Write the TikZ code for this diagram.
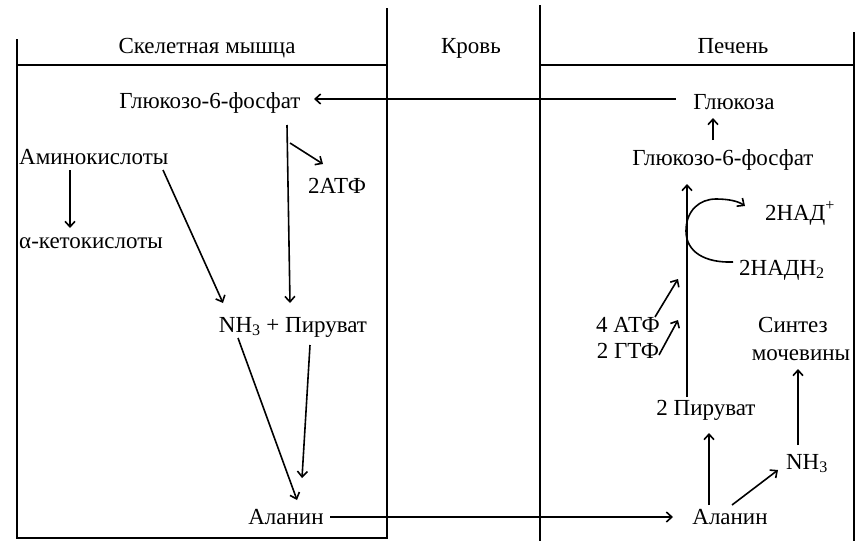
\documentclass[tikz,border=0pt]{standalone}
\usepackage{fontspec}
\setmainfont{Liberation Serif}
\usetikzlibrary{arrows.meta}
\begin{document}
\begin{tikzpicture}[x=1pt,y=-1pt,
  txt/.style={anchor=base,inner sep=0pt,font=\fontsize{23}{27}\selectfont},
  frame/.style={line width=1.9pt},
  arr/.style={line width=1.6pt,-{Straight Barb[length=5.5pt,width=10pt]}}]
\useasboundingbox (0,0) rectangle (863,541);
\fill[white] (0,0) rectangle (863,541);
% frames
\draw[frame] (17,39) -- (17,538) -- (387,538) -- (387,8);
\draw[frame] (17,65) -- (387,65);
\draw[frame] (540,5) -- (540,541);
\draw[frame] (540,65) -- (854,65);
\draw[frame] (854,32) -- (854,541);
% texts
\node[txt] (hSk) at (207,53) {Скелетная мышца};
\node[txt] (hBl) at (471,53) {Кровь};
\node[txt] (hLi) at (733,53) {Печень};
\node[txt] (g6pL) at (210,108) {Глюкозо-6-фосфат};
\node[txt] (gluc) at (734,109) {Глюкоза};
\node[txt] (g6pR) at (723,165) {Глюкозо-6-фосфат};
\node[txt,anchor=base west] (amino) at (19,164) {Аминокислоты};
\node[txt] (atpL) at (337,193) {2АТФ};
\node[txt,anchor=base west] (keto) at (19,248) {α-кетокислоты};
\node[txt] (nhpyr) at (293,332) {NH\textsubscript{3} + Пируват};
\node[txt] (alaL) at (286,524) {Аланин};
\node[txt] (alaR) at (730,524) {Аланин};
\node[txt] (pyr2) at (706,415) {2 Пируват};
\node[txt] (nh3R) at (807,469) {NH\textsubscript{3}};
\node[txt] (nad) at (800,220) {2НАД\textsuperscript{+}};
\node[txt] (nadh) at (782,275) {2НАДН\textsubscript{2}};
\node[txt] (atp4) at (628,332) {4 АТФ};
\node[txt] (gtp2) at (628,358) {2 ГТФ};
\node[txt] (syn1) at (793,332) {Синтез};
\node[txt] (syn2) at (801,360) {мочевины};
% connector end points
\coordinate (glucW) at (676,99);
\coordinate (g6pLE) at (314,99);
\coordinate (g6pRN) at (713,140);
\coordinate (glucS) at (713,118);
\coordinate (pyr2N) at (687,397);
\coordinate (g6pRS) at (687,184);
\coordinate (g6pLS) at (287,125);
\coordinate (nhpyrN) at (290,303);
\coordinate (atpBr) at (290,143);
\coordinate (atpLN) at (323,164);
\coordinate (aminoS1) at (70,170);
\coordinate (ketoN) at (70,228);
\coordinate (aminoS2) at (163,170);
\coordinate (nhpyrNW) at (223,303);
\coordinate (nhS) at (238,338);
\coordinate (alaLN1) at (297,500);
\coordinate (pyrS) at (310,345);
\coordinate (alaLN2) at (302,478);
\coordinate (alaLE) at (330,517);
\coordinate (alaRW) at (673,517);
\coordinate (alaRN) at (709,505);
\coordinate (pyr2S) at (709,433);
\coordinate (alaRNE) at (732,505);
\coordinate (nh3RSW) at (778,470);
\coordinate (nh3RN) at (798,445);
\coordinate (syn2S) at (798,369);
\coordinate (atp4E) at (655,317);
\coordinate (mainA) at (678,279);
\coordinate (gtp2E) at (659,355);
\coordinate (mainB) at (678,320);
\coordinate (nadhW) at (733,262);
\coordinate (nadW) at (745,206);
% connectors
\draw[arr] (glucW) -- (g6pLE);
\draw[arr] (g6pRN) -- (glucS);
\draw[arr] (pyr2N) -- (g6pRS);
\draw[arr] (g6pLS) -- (nhpyrN);
\draw[arr] (atpBr) -- (atpLN);
\draw[arr] (aminoS1) -- (ketoN);
\draw[arr] (aminoS2) -- (nhpyrNW);
\draw[arr] (nhS) -- (alaLN1);
\draw[arr] (pyrS) -- (alaLN2);
\draw[arr] (alaLE) -- (alaRW);
\draw[arr] (alaRN) -- (pyr2S);
\draw[arr] (alaRNE) -- (nh3RSW);
\draw[arr] (nh3RN) -- (syn2S);
\draw[arr] (atp4E) -- (mainA);
\draw[arr] (gtp2E) -- (mainB);
\draw[arr] (nadhW) .. controls (705,263) and (686,252) .. (686,231)
  .. controls (686,210) and (700,199) .. (716,199)
  .. controls (728,199) and (738,201) .. (nadW);
\end{tikzpicture}
\end{document}
